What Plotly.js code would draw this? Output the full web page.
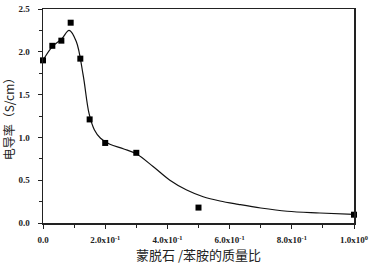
<!DOCTYPE html>
<html><head><meta charset="utf-8">
<script src="https://cdn.plot.ly/plotly-3.0.1.min.js"></script>
<style>html,body{margin:0;padding:0;background:#fff;}#chart{width:374px;height:264px;}</style>
</head><body><div id="chart"></div>
<script>
const ratioPts = [0, 0.03, 0.059, 0.089, 0.12, 0.15, 0.2, 0.3, 0.5, 1.0];
const condPts  = [1.90, 2.07, 2.13, 2.34, 1.92, 1.21, 0.935, 0.82, 0.18, 0.097];
const fitX = [0, 0.03, 0.06, 0.084, 0.107, 0.129, 0.148, 0.165, 0.185, 0.215, 0.26, 0.301, 0.354, 0.408, 0.462, 0.515, 0.569, 0.628, 0.70, 0.785, 0.89, 1.0];
const fitY = [1.90, 2.06, 2.15, 2.25, 2.12, 1.73, 1.28, 1.09, 0.99, 0.92, 0.865, 0.806, 0.66, 0.50, 0.385, 0.307, 0.257, 0.218, 0.175, 0.137, 0.117, 0.10];
const xTickVals = [0, 0.2, 0.4, 0.6, 0.8, 1.0];
const xTickText = ['0.0', '2.0x10<sup>-1</sup>', '4.0x10<sup>-1</sup>', '6.0x10<sup>-1</sup>', '8.0x10<sup>-1</sup>', '1.0x10<sup>0</sup>'];
const yTickVals = [0, 0.5, 1.0, 1.5, 2.0, 2.5];
const yTickText = ['0.0', '0.5', '1.0', '1.5', '2.0', '2.5'];

const tickFont = {family: 'Liberation Serif, serif', size: 9, color: '#222', weight: 'bold'};
const data = [
  {x: fitX, y: fitY, mode: 'lines', line: {color: '#111', width: 1.2, shape: 'spline', smoothing: 1}, hoverinfo: 'skip'},
  {x: ratioPts, y: condPts, mode: 'markers', marker: {symbol: 'square', size: 6, color: '#000'}, cliponaxis: false}
];
const layout = {
  width: 374, height: 264,
  margin: {l: 43, r: 20, t: 9, b: 41},
  paper_bgcolor: '#fff', plot_bgcolor: '#fff',
  showlegend: false,
  xaxis: {
    range: [0, 1.0], showgrid: false, zeroline: false,
    showline: true, linecolor: '#222', linewidth: 1.5, mirror: true,
    ticks: 'outside', ticklen: 4, tickwidth: 1, tickcolor: '#222',
    tickvals: xTickVals, ticktext: xTickText, tickfont: tickFont, ticklabelstandoff: 4,
    minor: {dtick: 0.1, ticks: 'outside', ticklen: 3, tickcolor: '#222'},
    title: {text: '蒙脱石 /苯胺的质量比', font: {family: 'Noto Sans CJK SC', size: 13, color: '#222'}, standoff: 7}
  },
  yaxis: {
    range: [0, 2.5], showgrid: false, zeroline: false,
    showline: true, linecolor: '#222', linewidth: 1.5, mirror: true,
    ticks: 'outside', ticklen: 4, tickwidth: 1, tickcolor: '#222',
    tickvals: yTickVals, ticktext: yTickText, tickfont: tickFont, ticklabelstandoff: 6,
    minor: {dtick: 0.25, ticks: 'outside', ticklen: 3, tickcolor: '#222'},
    title: {text: '电导率（S/cm）', font: {family: 'Noto Sans CJK SC', size: 12, color: '#222'}, standoff: 4}
  }
};
Plotly.newPlot('chart', data, layout, {staticPlot: true, displayModeBar: false});
</script></body></html>
